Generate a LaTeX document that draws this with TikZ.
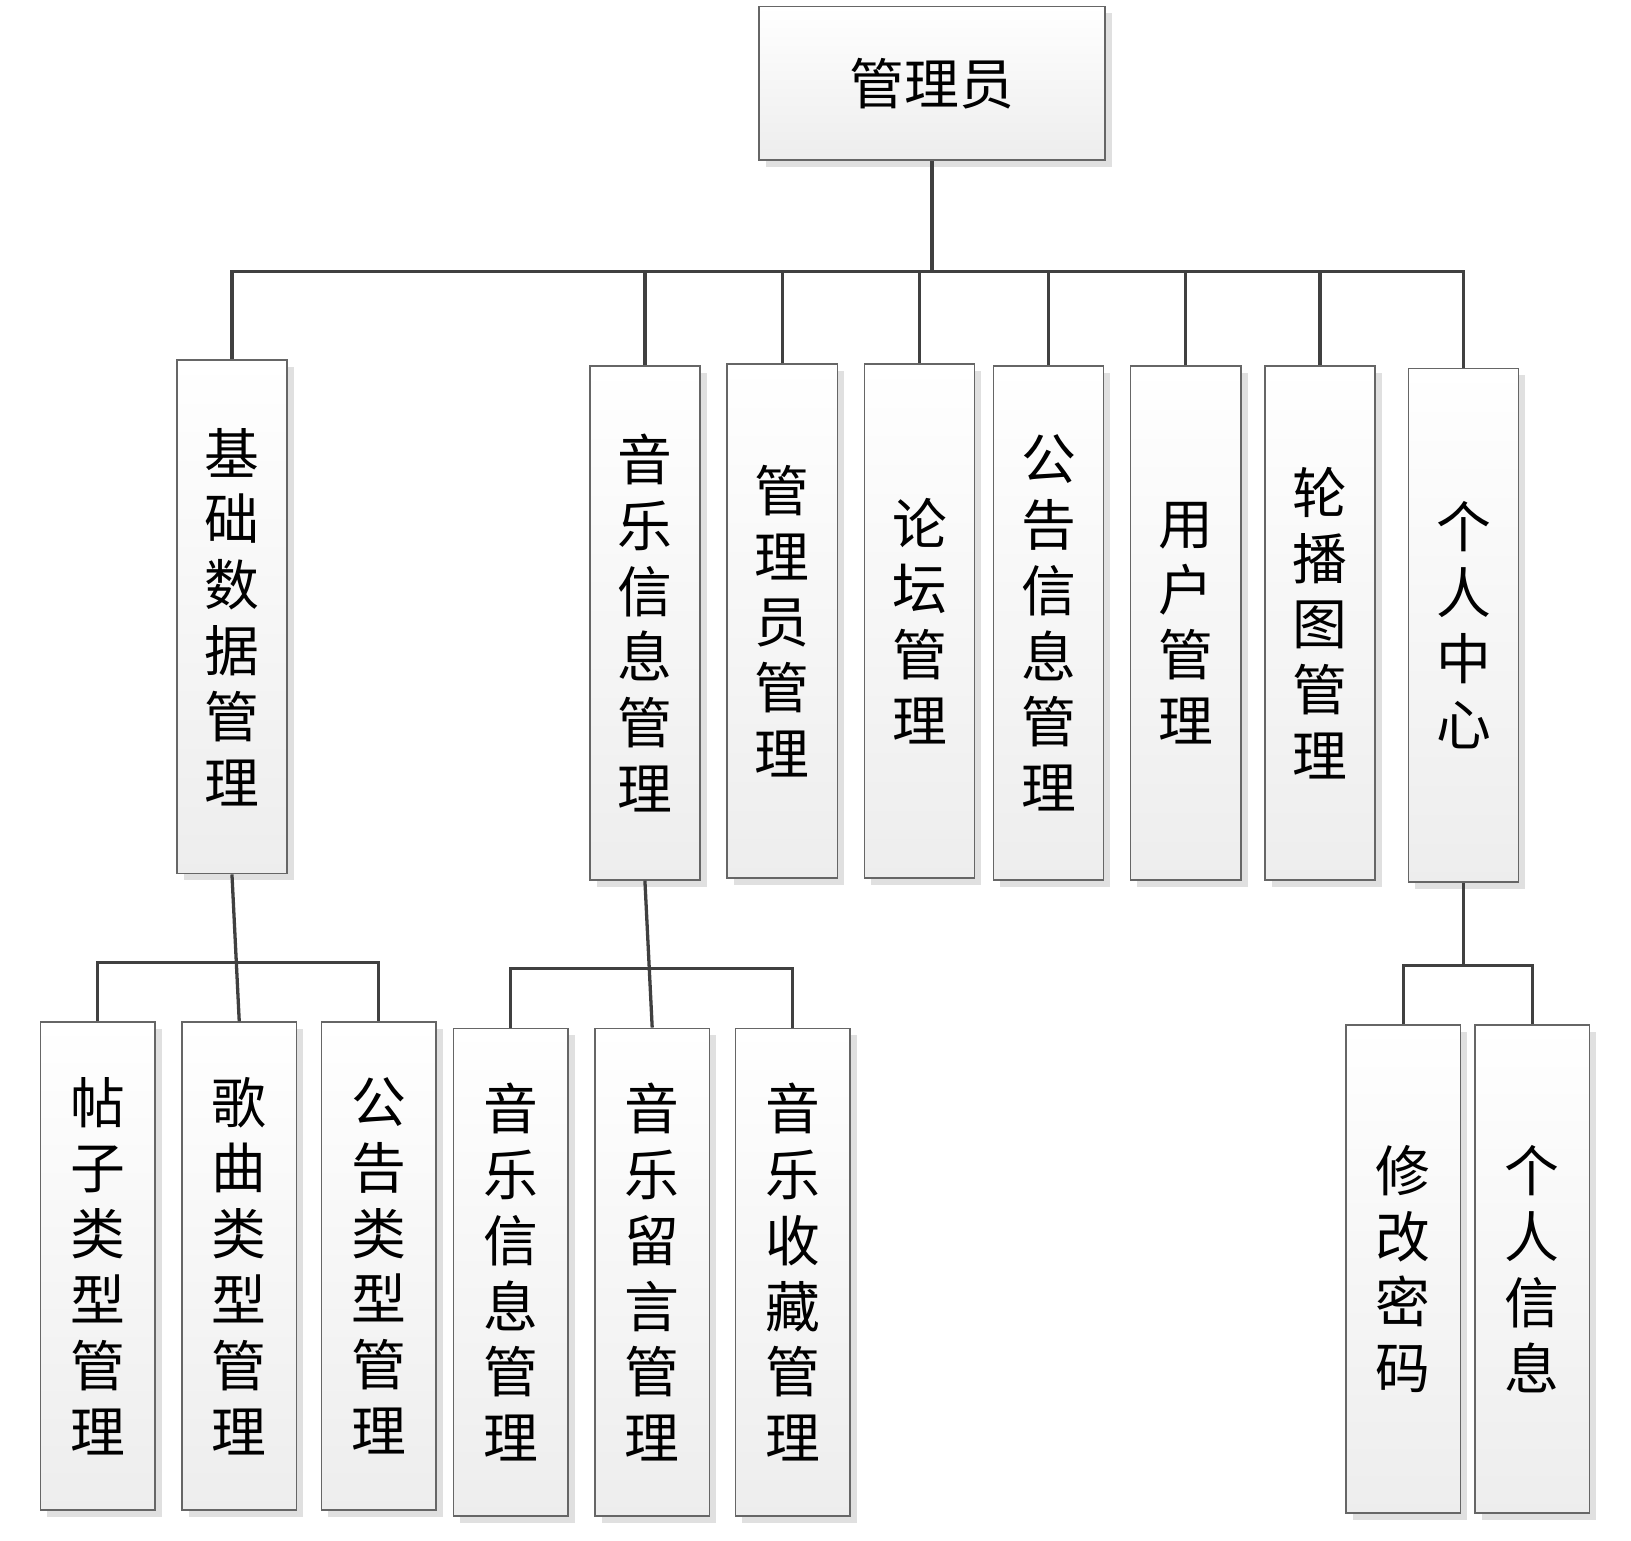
\documentclass[tikz,border=0pt]{standalone}
\usepackage{fontspec}
\setmainfont{Noto Sans CJK SC}
\usetikzlibrary{shadows}
\tikzset{
  box/.style={draw=black!60, line width=0.8pt, top color=white, bottom color=black!7,
    drop shadow={shadow xshift=0.13cm, shadow yshift=-0.13cm, fill=black!12, opacity=1},
    align=center, font=\fontsize{30}{36}\selectfont, inner sep=0pt},
  top/.style={box, minimum width=2.12cm, minimum height=9.88cm},
  sub/.style={box, minimum width=2.2cm, minimum height=9.38cm},
  link/.style={draw=black!75, line width=1.8pt}
}
\begin{document}
\begin{tikzpicture}[x=0.02cm, y=-0.02cm]
    \useasboundingbox (0,0) rectangle (1568,1481);

    % Root
    \node[box, minimum width=6.66cm, minimum height=2.96cm] (root) at (896,80) {管理员};

    % First level
    \node[top] (jc) at (223,593) {基\\础\\数\\据\\管\\理};
    \node[top] (yy) at (620,599) {音\\乐\\信\\息\\管\\理};
    \node[top] (gly) at (752,597) {管\\理\\员\\管\\理};
    \node[top] (lt) at (884,597) {论\\坛\\管\\理};
    \node[top] (gg) at (1008,599) {公\\告\\信\\息\\管\\理};
    \node[top] (yh) at (1140,599) {用\\户\\管\\理};
    \node[top] (lb) at (1269,599) {轮\\播\\图\\管\\理};
    \node[top] (gr) at (1407,601) {个\\人\\中\\心};

    % Second level
    \node[sub] (tz) at (94,1217) {帖\\子\\类\\型\\管\\理};
    \node[sub] (gq) at (230,1217) {歌\\曲\\类\\型\\管\\理};
    \node[sub] (gl) at (364,1217) {公\\告\\类\\型\\管\\理};
    \node[sub] (xx) at (491,1223) {音\\乐\\信\\息\\管\\理};
    \node[sub] (ly) at (627,1223) {音\\乐\\留\\言\\管\\理};
    \node[sub] (sc) at (762,1223) {音\\乐\\收\\藏\\管\\理};
    \node[sub] (mm) at (1349,1220) {修\\改\\密\\码};
    \node[sub] (xi) at (1473,1220) {个\\人\\信\\息};

    % Connectors
    \coordinate (bus) at (0,261);
    \draw[link] (root.south) -- (root.south |- bus);
    \draw[link] (jc.north) -- (jc.north |- bus) -- (gr.north |- bus) -- (gr.north);
    \foreach \n in {yy,gly,lt,gg,yh,lb}
        \draw[link] (\n.north) -- (\n.north |- bus);

    \coordinate (busa) at (0,925);
    \draw[link] (jc.south) -- (gq.north);
    \draw[link] (tz.north) -- (tz.north |- busa) -- (gl.north |- busa) -- (gl.north);

    \coordinate (busb) at (0,931);
    \draw[link] (yy.south) -- (ly.north);
    \draw[link] (xx.north) -- (xx.north |- busb) -- (sc.north |- busb) -- (sc.north);

    \coordinate (busc) at (0,928);
    \draw[link] (gr.south) -- (gr.south |- busc);
    \draw[link] (mm.north) -- (mm.north |- busc) -- (xi.north |- busc) -- (xi.north);
\end{tikzpicture}
\end{document}
